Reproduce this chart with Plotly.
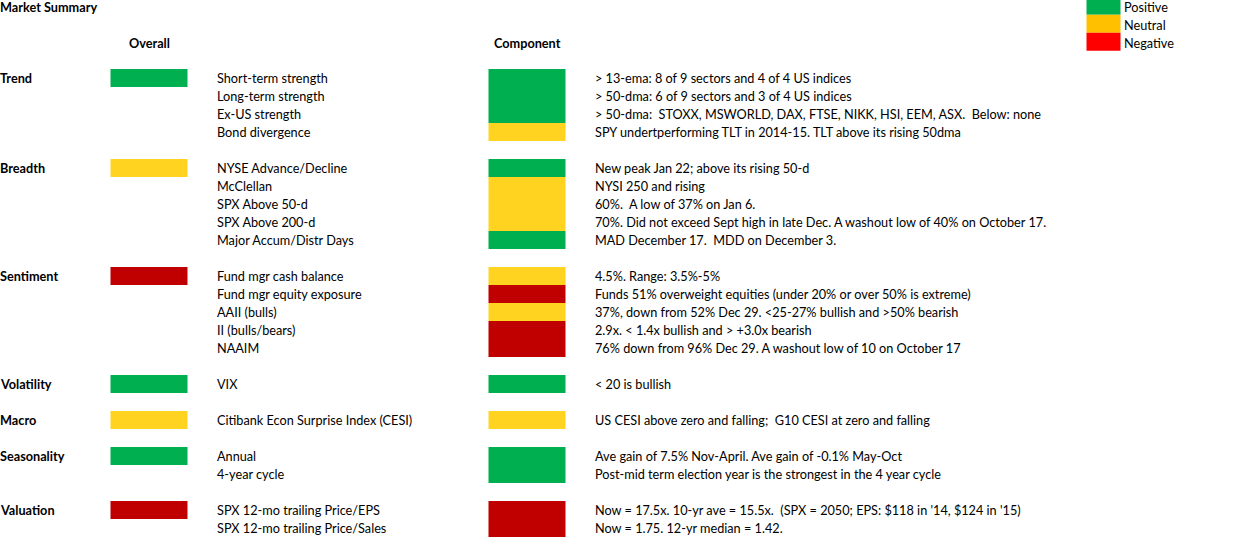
import plotly.graph_objects as go

# ---------------- data ----------------
title_text = "Market Summary"
header_overall = "Overall"
header_component = "Component"

groups = ["Trend", "Breadth", "Sentiment", "Volatility", "Macro", "Seasonality", "Valuation"]
overall = ["Positive", "Neutral", "Negative", "Positive", "Neutral", "Positive", "Negative"]

components = [
    ["Short-term strength", "Long-term strength", "Ex-US strength", "Bond divergence"],
    ["NYSE Advance/Decline", "McClellan", "SPX Above 50-d", "SPX Above 200-d", "Major Accum/Distr Days"],
    ["Fund mgr cash balance", "Fund mgr equity exposure", "AAII (bulls)", "II (bulls/bears)", "NAAIM"],
    ["VIX"],
    ["Citibank Econ Surprise Index (CESI)"],
    ["Annual", "4-year cycle"],
    ["SPX 12-mo trailing Price/EPS", "SPX 12-mo trailing Price/Sales"],
]
component_status = [
    ["Positive", "Positive", "Positive", "Neutral"],
    ["Positive", "Neutral", "Neutral", "Neutral", "Positive"],
    ["Neutral", "Negative", "Neutral", "Negative", "Negative"],
    ["Positive"],
    ["Neutral"],
    ["Positive", "Positive"],
    ["Negative", "Negative"],
]
descriptions = [
    ["> 13-ema: 8 of 9 sectors and 4 of 4 US indices",
     "> 50-dma: 6 of 9 sectors and 3 of 4 US indices",
     "> 50-dma:  STOXX, MSWORLD, DAX, FTSE, NIKK, HSI, EEM, ASX.  Below: none",
     "SPY undertperforming TLT in 2014-15. TLT above its rising 50dma"],
    ["New peak Jan 22; above its rising 50-d",
     "NYSI 250 and rising",
     "60%.  A low of 37% on Jan 6.",
     "70%. Did not exceed Sept high in late Dec. A washout low of 40% on October 17.",
     "MAD December 17.  MDD on December 3."],
    ["4.5%. Range: 3.5%-5%",
     "Funds 51% overweight equities (under 20% or over 50% is extreme)",
     "37%, down from 52% Dec 29. <25-27% bullish and >50% bearish",
     "2.9x. < 1.4x bullish and > +3.0x bearish",
     "76% down from 96% Dec 29. A washout low of 10 on October 17"],
    ["< 20 is bullish"],
    ["US CESI above zero and falling;  G10 CESI at zero and falling"],
    ["Ave gain of 7.5% Nov-April. Ave gain of -0.1% May-Oct",
     "Post-mid term election year is the strongest in the 4 year cycle"],
    ["Now = 17.5x. 10-yr ave = 15.5x.  (SPX = 2050; EPS: $118 in '14, $124 in '15)",
     "Now = 1.75. 12-yr median = 1.42."],
]
legend_labels = ["Positive", "Neutral", "Negative"]

# ---------------- styles ----------------
table_colors = {"Positive": "#00B050", "Neutral": "#FFD320", "Negative": "#C00000"}
legend_colors = {"Positive": "#00B050", "Neutral": "#FFC000", "Negative": "#FF0000"}
FONT = "Lato, Carlito, Calibri, sans-serif"
FS = 12.7

X_LABEL = 0
X_OVERALL = (110, 187)
X_COMP_NAME = 217
X_COMP = (488, 565)
X_DESC = 595
X_LEG = (1086, 1120)
X_LEG_TEXT = 1123

fig = go.Figure()
shapes = []
annotations = []

def text(x, y, s, bold=False, xanchor="left", size=FS, xshift=-3):
    annotations.append(dict(
        x=x, y=y, xref="x", yref="y", text=f"<b>{s}</b>" if bold else s,
        showarrow=False, xanchor=xanchor, yanchor="middle",
        xshift=xshift if xanchor == "left" else 0,
        font=dict(family=FONT, size=size, color="#000000"),
    ))

def rect(x0, x1, r0, r1, color):
    shapes.append(dict(type="rect", xref="x", yref="y", x0=x0, x1=x1,
                       y0=r0 - 0.5, y1=r1 + 0.5, fillcolor=color, line=dict(width=0),
                       layer="below"))

# title / headers (row units, row 0 = first data row)
text(X_LABEL, -3.94, title_text, bold=True)
text((X_OVERALL[0] + X_OVERALL[1]) / 2, -1.94, header_overall, bold=True, xanchor="center")
text((X_COMP[0] + X_COMP[1]) / 2, -1.94, header_component, bold=True, xanchor="center")

# legend
for i, lab in enumerate(legend_labels):
    rect(X_LEG[0], X_LEG[1], -4.02 + i, -4.02 + i, legend_colors[lab])
    text(X_LEG_TEXT, -3.94 + i, lab, xshift=-2)

row = 0
for g, ov, comps, stats, descs in zip(groups, overall, components, component_status, descriptions):
    text(X_LABEL, row, g, bold=True)
    rect(X_OVERALL[0], X_OVERALL[1], row, row, table_colors[ov])
    for j, (c, s, d) in enumerate(zip(comps, stats, descs)):
        r = row + j
        text(X_COMP_NAME, r, c)
        text(X_DESC, r, d)
        rect(X_COMP[0], X_COMP[1], r, r, table_colors[s])
    row += len(comps) + 1

W, H = 1233, 549
ROW_H = 18
Y0 = 78  # pixel center of row 0
fig.update_layout(
    width=W, height=H,
    margin=dict(l=0, r=0, t=0, b=0),
    paper_bgcolor="white", plot_bgcolor="white",
    xaxis=dict(range=[-0.5, W - 0.5], visible=False, fixedrange=True),
    yaxis=dict(range=[(H - Y0) / ROW_H, -Y0 / ROW_H], visible=False, fixedrange=True),
    shapes=shapes, annotations=annotations, showlegend=False,
)
fig.write_html(
    "out.html",
    config={"displayModeBar": False},
    post_script="document.body.style.margin='0';document.body.style.overflow='hidden';",
)
